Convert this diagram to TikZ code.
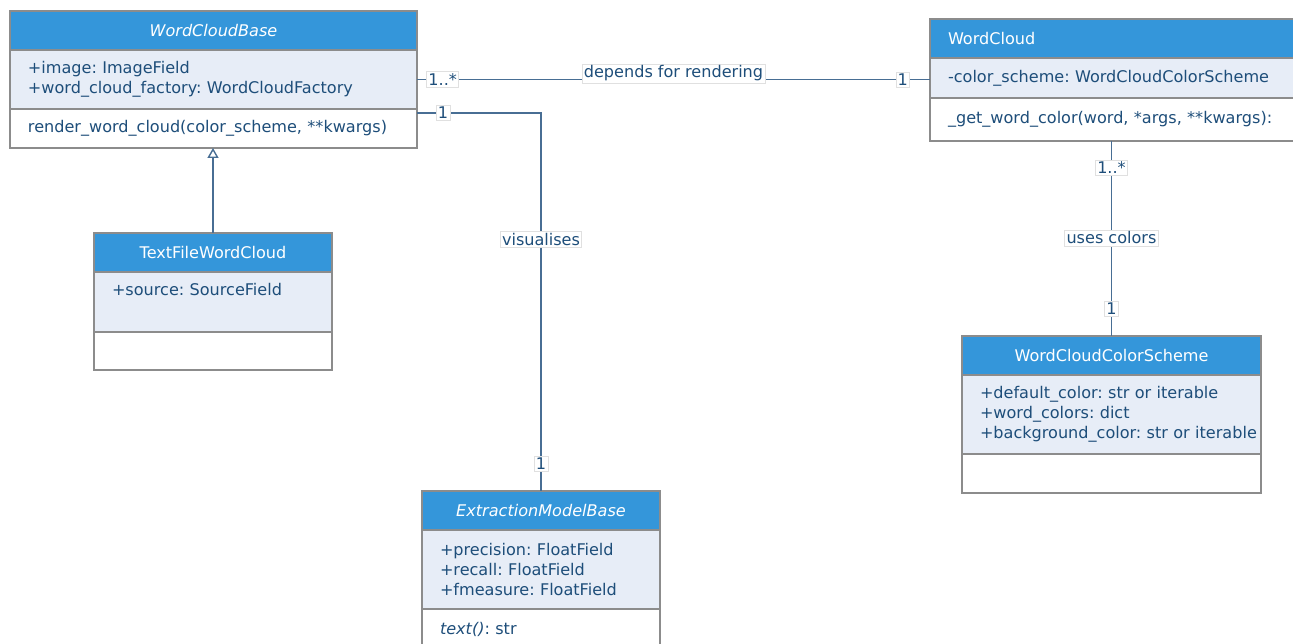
\documentclass[tikz,border=0pt]{standalone}
\usepackage{fontspec}
\setmainfont{DejaVu Sans}
\usetikzlibrary{positioning, arrows.meta}
\definecolor{headblue}{RGB}{52,150,218}
\definecolor{attrblue}{RGB}{231,237,247}
\definecolor{boxgray}{RGB}{140,140,140}
\definecolor{txtblue}{RGB}{30,78,122}
\definecolor{lineblue}{RGB}{72,110,148}
\newcommand{\umlsize}{\fontsize{9.15}{11.4}\selectfont\frenchspacing}
\tikzset{
	part/.style={draw=boxgray, line width=0.8pt, font=\umlsize, outer sep=0pt, inner xsep=0.36cm, inner ysep=0pt, text width=#1, align=left},
	chead/.style={part=#1, fill=headblue, text=white, minimum height=0.78cm, align=center},
	cattr/.style={part=#1, fill=attrblue, text=txtblue},
	cop/.style={part=#1, fill=white, text=txtblue},
	assoc/.style={draw=lineblue, line width=0.8pt},
	mult/.style={fill=white, draw=black!12, line width=0.4pt, inner sep=1pt, text=txtblue, font=\umlsize}
}
\begin{document}
\begin{tikzpicture}
		\useasboundingbox (0,0) rectangle (25.86,-12.88);
		\node[chead=7.42cm, anchor=north west, font=\umlsize\itshape] (wcb) at (0.2,-0.22) {WordCloudBase};
		\node[cattr=7.42cm, minimum height=1.18cm, below=0pt of wcb] (wcb-a) {+image: ImageField\\+word\_cloud\_factory: WordCloudFactory};
		\node[cop=7.42cm, minimum height=0.78cm, below=0pt of wcb-a] (wcb-m) {render\_word\_cloud(color\_scheme, **kwargs)};
		\node[chead=6.78cm, align=left, anchor=north west] (wc) at (18.6,-0.38) {WordCloud};
		\node[cattr=6.78cm, minimum height=0.8cm, below=0pt of wc] (wc-a) {-color\_scheme: WordCloudColorScheme};
		\node[cop=6.78cm, minimum height=0.86cm, below=0pt of wc-a] (wc-m) {\_get\_word\_color(word, *args, **kwargs):};
		\node[chead=4.04cm, anchor=north west] (tfwc) at (1.88,-4.66) {TextFileWordCloud};
		\node[cattr=4.04cm, minimum height=1.2cm, below=0pt of tfwc] (tfwc-a) {+source: SourceField\\\strut};
		\node[cop=4.04cm, minimum height=0.76cm, below=0pt of tfwc-a] (tfwc-m) {};
		\node[chead=4.04cm, anchor=north west, font=\umlsize\itshape] (emb) at (8.44,-9.82) {ExtractionModelBase};
		\node[cattr=4.04cm, minimum height=1.58cm, below=0pt of emb] (emb-a) {+precision: FloatField\\+recall: FloatField\\+fmeasure: FloatField};
		\node[cop=4.04cm, minimum height=0.8cm, below=0pt of emb-a] (emb-m) {\textit{text()}: str};
		\node[chead=5.26cm, anchor=north west] (wccs) at (19.24,-6.72) {WordCloudColorScheme};
		\node[cattr=5.26cm, minimum height=1.58cm, below=0pt of wccs] (wccs-a) {+default\_color: str or iterable\\+word\_colors: dict\\\mbox{+background\_color: str or iterable}};
		\node[cop=5.26cm, minimum height=0.78cm, below=0pt of wccs-a] (wccs-m) {};
		\draw[assoc, -{Triangle[open, length=0.2cm, width=0.22cm]}] (tfwc.north) -- (tfwc.north |- wcb-m.south);
		\draw[assoc] (wcb-a.east) -- (wcb-a.east -| wc-a.west)
		node[mult, pos=0.05] (m1) {1..*}
		node[mult, pos=0.5, yshift=0.12cm] (l1) {depends for rendering}
		node[mult, pos=0.947] (m2) {1};
		\draw[assoc] ([yshift=-0.08cm]wcb-m.north east) -| (emb.north)
		node[mult, pos=0.105] (m3) {1}
		node[mult, pos=0.667] (l2) {visualises}
		node[mult, pos=0.964] (m4) {1};
		\draw[assoc] (wccs.north |- wc-m.south) -- (wccs.north)
		node[mult, pos=0.138] (m5) {1..*}
		node[mult, pos=0.497] (l3) {uses colors}
		node[mult, pos=0.862] (m6) {1};
	\end{tikzpicture}
\end{document}
